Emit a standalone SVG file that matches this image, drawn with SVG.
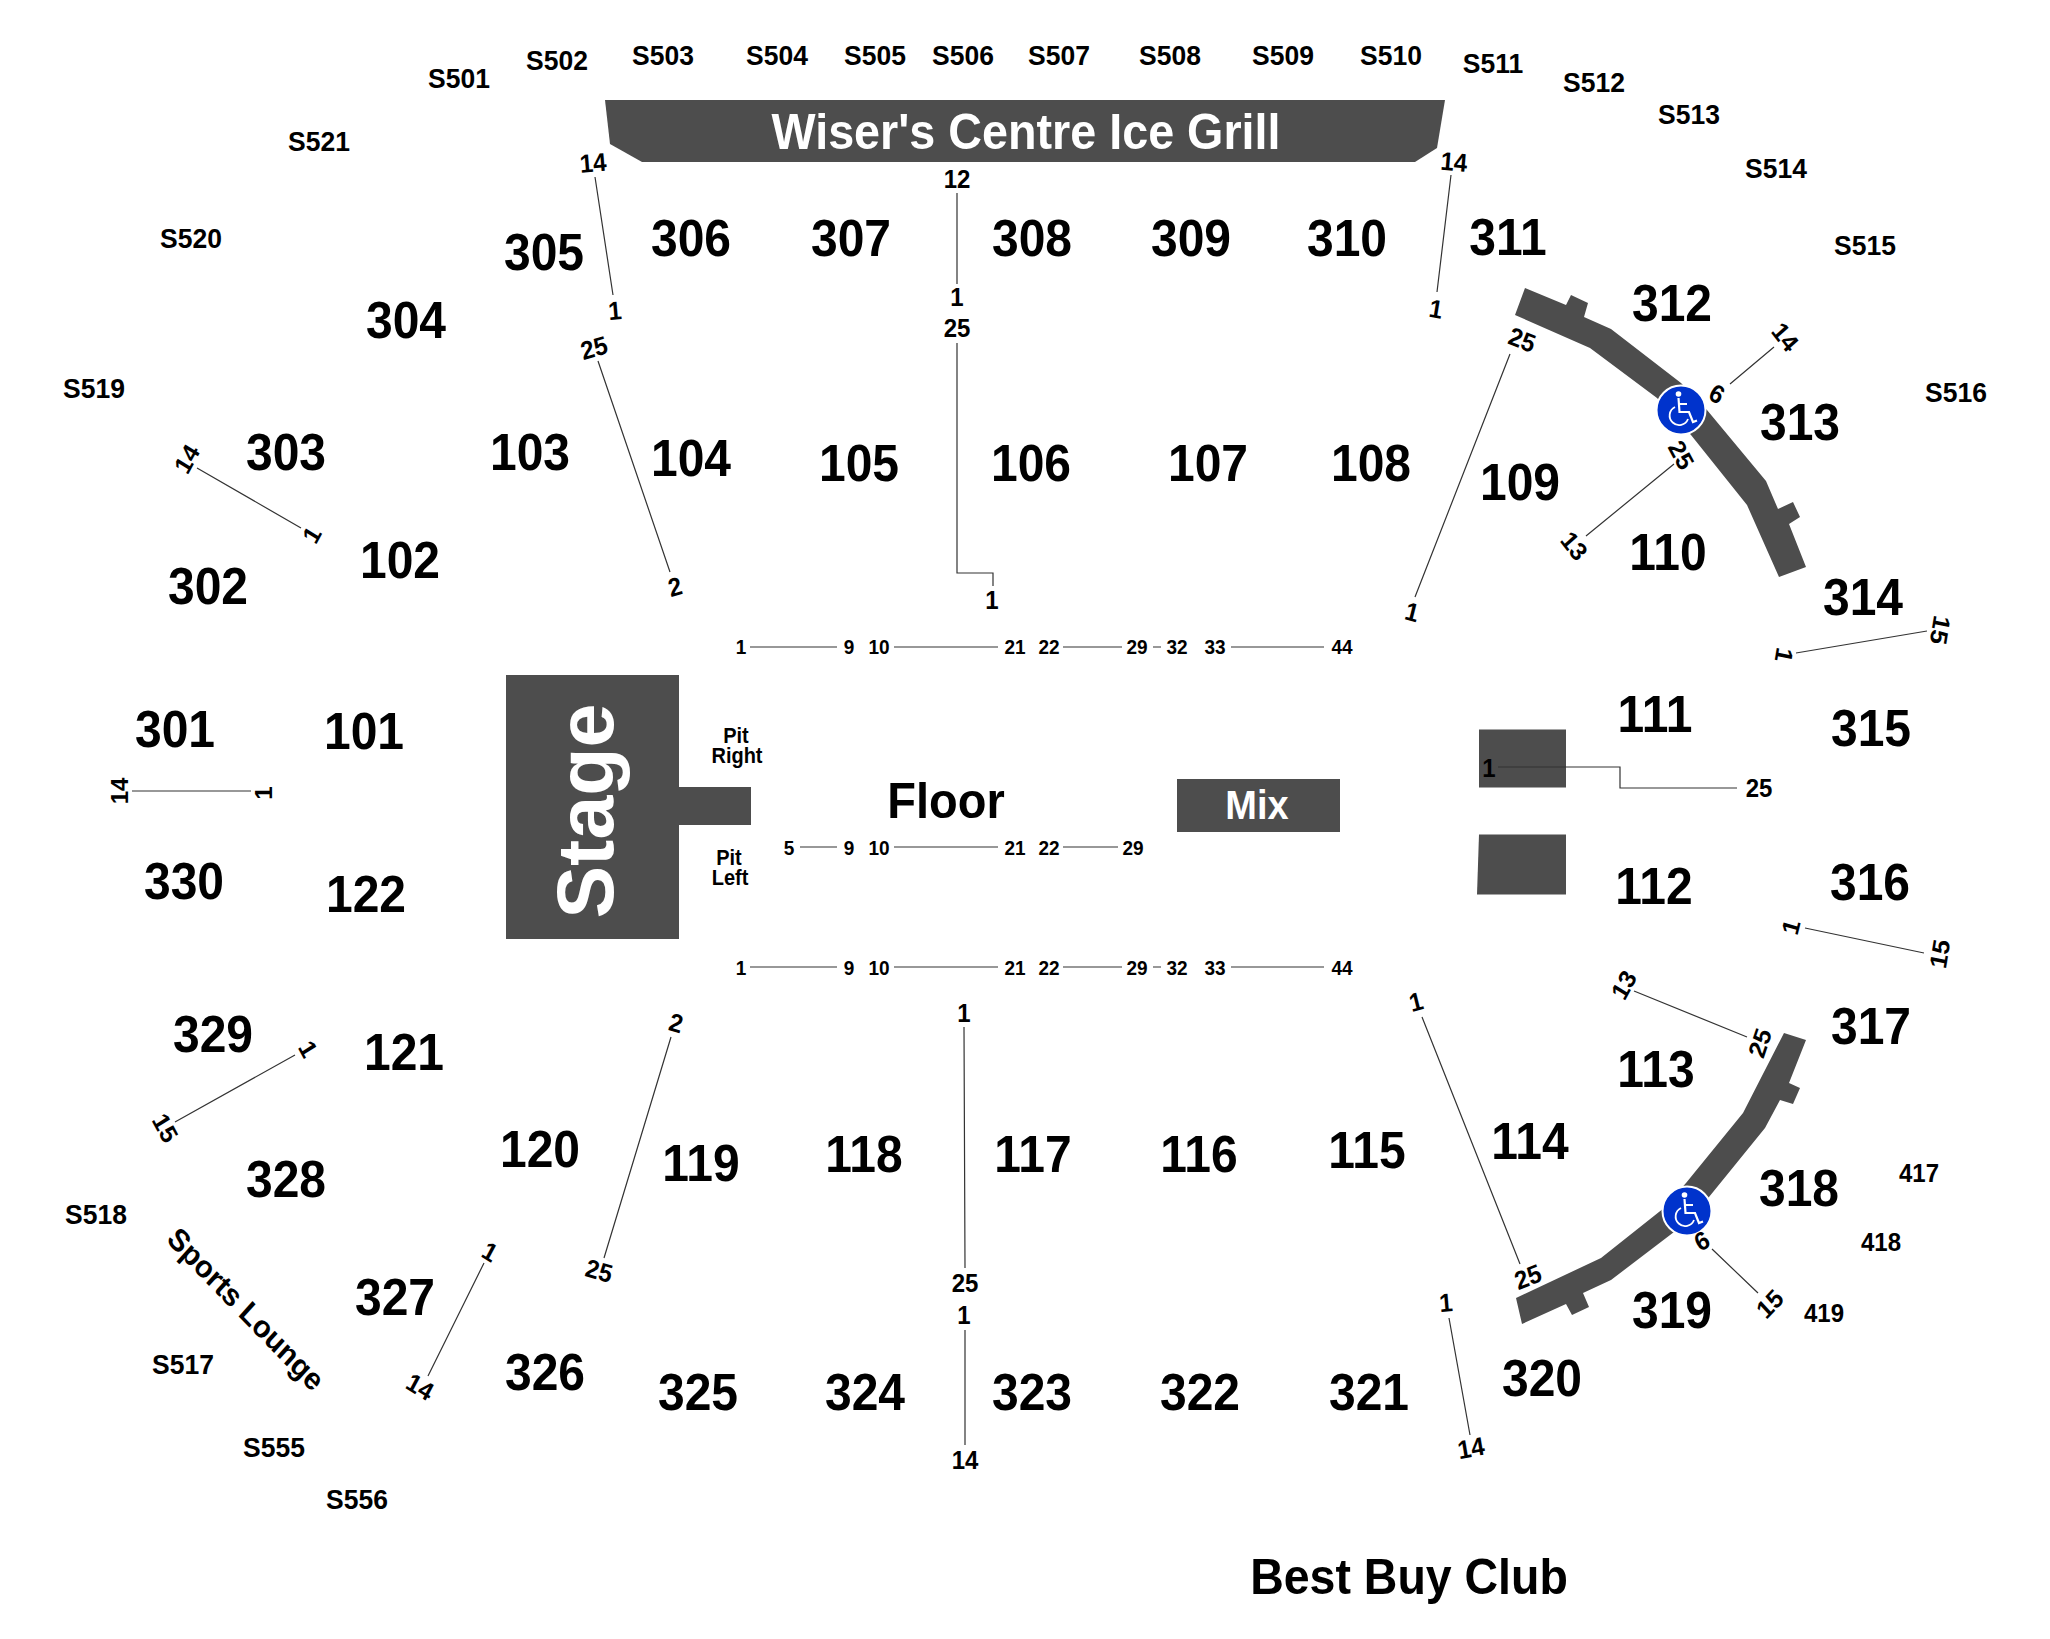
<svg xmlns="http://www.w3.org/2000/svg" width="2050" height="1639" viewBox="0 0 2050 1639">
<style>
text{font-family:"Liberation Sans",Arial,sans-serif;font-weight:700;text-anchor:middle;dominant-baseline:central;fill:#000}
text:not([transform]){transform-box:fill-box;transform-origin:center;transform:scaleY(1.07)}
.b{font-size:48px}
.s{font-size:26.5px}
.n{font-size:24px}
.r{font-size:19px}
.p{font-size:20px}
.w{fill:#fff}
.g{fill:#4d4d4d}
.l{fill:none;stroke:#333;stroke-width:1.2}
</style>
<defs>
<g id="wc">
<circle r="24.5" fill="#0033cc" stroke="#fff" stroke-width="2"/>
<circle cx="-2.5" cy="-16" r="2.8" fill="#fff"/>
<path d="M-2.5-12 L-1.5 2 H8 L12 12 L16 10.5 M-2-6 H6" fill="none" stroke="#fff" stroke-width="2.2"/>
<path d="M-6-3 A9.5 9.5 0 1 0 7 9" fill="none" stroke="#fff" stroke-width="1.8"/>
</g>
</defs>
<g id="stage"><path class="g" d="M506 675H679V787H751V825H679V939H506Z"/><text class="w" x="585" y="811" font-size="79" transform="rotate(-90 585 811)">Stage</text></g>
<g id="mix"><rect class="g" x="1177" y="779" width="163" height="53"/><text class="w" x="1257" y="805" font-size="38">Mix</text></g>
<g id="grill"><path class="g" d="M605 100H1445L1437 148L1415 162H642L610 144Z"/><text class="w" x="1026" y="131" font-size="46.7">Wiser's Centre Ice Grill</text></g>
<g id="block-111"><rect class="g" x="1479" y="729.500" width="87" height="58"/></g>
<g id="block-112"><path class="g" d="M1479 834.500H1566V894.500H1477Z"/></g>
<g id="band-top"><path class="g" d="M1525 288L1566 305L1571 295L1588 303L1584 317L1611 329L1681 383L1707 410L1766 481L1778 509L1793 502L1800 517L1789 524L1806 567L1779 577L1747 505L1691 435L1657 398L1590 348L1515 315Z"/><use href="#wc" x="1681" y="410"/></g>
<g id="band-bottom"><path class="g" d="M1784 1033L1806 1040L1789 1083L1800 1088L1793 1104L1780 1100L1765 1128L1709 1197L1674 1232L1611 1280L1583 1293L1589 1307L1572 1315L1566 1304L1522 1324L1516 1298L1601 1258L1664 1208L1686 1183L1743 1113Z"/><use href="#wc" x="1687" y="1211"/></g>
<g id="connectors">
<path class="l" d="M595 177L613 295M957 193V284M957 343V573H993V586M1451 175L1437 292M598 361L670 572M1510 354L1415 597M197 468L301 528M132 791H251M295 1055L175 1122M484 1263L428 1376M671 1037L604 1258M964 1027L965 1268M965 1330V1445M1422 1017L1520 1264M1449 1318L1470 1435M1634 991L1747 1037M1712 1249L1758 1293M1774 347L1730 384M1674 464L1586 536M1796 653L1927 631M1805 928L1924 953M1498 767H1620V788H1737"/>
<path class="l" d="M750 647H837M894 647H998M1063 647H1122M1153 647H1161M1231 647H1324M800 847H837M894 847H998M1063 847H1118M750 967H837M894 967H998M1063 967H1122M1153 967H1161M1231 967H1324"/>
</g>
<g id="section-100">
<text class="b" x="364" y="731">101</text><text class="b" x="400" y="560">102</text><text class="b" x="530" y="452">103</text><text class="b" x="691" y="458">104</text><text class="b" x="859" y="463">105</text><text class="b" x="1031" y="463">106</text><text class="b" x="1208" y="463">107</text><text class="b" x="1371" y="463">108</text><text class="b" x="1520" y="482">109</text><text class="b" x="1668" y="552">110</text><text class="b" x="1655" y="714">111</text><text class="b" x="1654" y="886">112</text><text class="b" x="1656" y="1069">113</text><text class="b" x="1530" y="1141">114</text><text class="b" x="1367" y="1150">115</text><text class="b" x="1199" y="1154">116</text><text class="b" x="1033" y="1154">117</text><text class="b" x="864" y="1154">118</text><text class="b" x="701" y="1163">119</text><text class="b" x="540" y="1149">120</text><text class="b" x="404" y="1052">121</text><text class="b" x="366" y="894">122</text>
</g>
<g id="section-300">
<text class="b" x="175" y="729">301</text><text class="b" x="208" y="586">302</text><text class="b" x="286" y="452">303</text><text class="b" x="406" y="320">304</text><text class="b" x="544" y="252">305</text><text class="b" x="691" y="238">306</text><text class="b" x="851" y="238">307</text><text class="b" x="1032" y="238">308</text><text class="b" x="1191" y="238">309</text><text class="b" x="1347" y="238">310</text><text class="b" x="1508" y="237">311</text><text class="b" x="1672" y="303">312</text><text class="b" x="1800" y="422">313</text><text class="b" x="1863" y="597">314</text><text class="b" x="1871" y="728">315</text><text class="b" x="1870" y="882">316</text><text class="b" x="1871" y="1026">317</text><text class="b" x="1799" y="1188">318</text><text class="b" x="1672" y="1310">319</text><text class="b" x="1542" y="1378">320</text><text class="b" x="1369" y="1392">321</text><text class="b" x="1200" y="1392">322</text><text class="b" x="1032" y="1392">323</text><text class="b" x="865" y="1392">324</text><text class="b" x="698" y="1392">325</text><text class="b" x="545" y="1372">326</text><text class="b" x="395" y="1297">327</text><text class="b" x="286" y="1179">328</text><text class="b" x="213" y="1034">329</text><text class="b" x="184" y="881">330</text>
</g>
<g id="section-400">
<text class="n" x="1919" y="1173">417</text><text class="n" x="1881" y="1242">418</text><text class="n" x="1824" y="1313">419</text>
</g>
<g id="suites">
<text class="s" x="459" y="78">S501</text><text class="s" x="557" y="60">S502</text><text class="s" x="663" y="55">S503</text><text class="s" x="777" y="55">S504</text><text class="s" x="875" y="55">S505</text><text class="s" x="963" y="55">S506</text><text class="s" x="1059" y="55">S507</text><text class="s" x="1170" y="55">S508</text><text class="s" x="1283" y="55">S509</text><text class="s" x="1391" y="55">S510</text><text class="s" x="1493" y="63">S511</text><text class="s" x="1594" y="82">S512</text><text class="s" x="1689" y="114">S513</text><text class="s" x="1776" y="168">S514</text><text class="s" x="1865" y="245">S515</text><text class="s" x="1956" y="392">S516</text><text class="s" x="183" y="1364">S517</text><text class="s" x="96" y="1214">S518</text><text class="s" x="94" y="388">S519</text><text class="s" x="191" y="238">S520</text><text class="s" x="319" y="141">S521</text><text class="s" x="274" y="1447">S555</text><text class="s" x="357" y="1499">S556</text>
</g>
<g id="areas">
<text x="946" y="800" font-size="47">Floor</text>
<text x="1409" y="1576" font-size="46.5">Best Buy Club</text>
<text font-size="29" transform="translate(246 1309) scale(1 1.07) rotate(44)">Sports Lounge</text>
<text class="p" x="736" y="735">Pit</text><text class="p" x="737" y="755">Right</text><text class="p" x="729" y="857">Pit</text><text class="p" x="730" y="877">Left</text>
</g>
<g id="row-numbers">
<text class="n" transform="translate(593 163) scale(1 1.07) rotate(-5)">14</text><text class="n" transform="translate(615 311) scale(1 1.07) rotate(-5)">1</text>
<text class="n" x="957" y="179">12</text><text class="n" x="957" y="297">1</text><text class="n" x="957" y="328">25</text><text class="n" x="992" y="600">1</text>
<text class="n" transform="translate(1454 162) scale(1 1.07) rotate(5)">14</text><text class="n" transform="translate(1436 309) scale(1 1.07) rotate(10)">1</text>
<text class="n" transform="translate(594 348) scale(1 1.07) rotate(-15)">25</text><text class="n" transform="translate(675 587) scale(1 1.07) rotate(-15)">2</text>
<text class="n" transform="translate(1522 340) scale(1 1.07) rotate(20)">25</text><text class="n" transform="translate(1412 612) scale(1 1.07) rotate(15)">1</text>
<text class="n" transform="translate(1785 337) scale(1 1.07) rotate(50)">14</text><text class="n" transform="translate(1717 394) scale(1 1.07) rotate(30)">6</text>
<text class="n" transform="translate(1681 455) scale(1 1.07) rotate(60)">25</text><text class="n" transform="translate(1574 546) scale(1 1.07) rotate(50)">13</text>
<text class="n" transform="translate(1784 655) scale(1 1.07) rotate(100)">1</text><text class="n" transform="translate(1940 630) scale(1 1.07) rotate(100)">15</text>
<text class="n" transform="translate(187 459) scale(1 1.07) rotate(-60)">14</text><text class="n" transform="translate(312 535) scale(1 1.07) rotate(-60)">1</text>
<text class="n" transform="translate(119 791) rotate(-90)">14</text><text class="n" transform="translate(263 793) rotate(-90)">1</text>
<text class="n" x="1489" y="768">1</text><text class="n" x="1759" y="788">25</text>
<text class="n" transform="translate(1791 927) scale(1 1.07) rotate(-75)">1</text><text class="n" transform="translate(1940 954) scale(1 1.07) rotate(-80)">15</text>
<text class="n" transform="translate(308 1049) scale(1 1.07) rotate(60)">1</text><text class="n" transform="translate(165 1128) scale(1 1.07) rotate(60)">15</text>
<text class="n" transform="translate(490 1252) scale(1 1.07) rotate(30)">1</text><text class="n" transform="translate(420 1387) scale(1 1.07) rotate(30)">14</text>
<text class="n" transform="translate(676 1023) scale(1 1.07) rotate(15)">2</text><text class="n" transform="translate(599 1271) scale(1 1.07) rotate(15)">25</text>
<text class="n" x="964" y="1013">1</text><text class="n" x="965" y="1283">25</text><text class="n" x="964" y="1315">1</text><text class="n" x="965" y="1460">14</text>
<text class="n" transform="translate(1416 1002) scale(1 1.07) rotate(-15)">1</text><text class="n" transform="translate(1528 1277) scale(1 1.07) rotate(-20)">25</text>
<text class="n" transform="translate(1446 1303) scale(1 1.07) rotate(-5)">1</text><text class="n" transform="translate(1471 1448) scale(1 1.07) rotate(-10)">14</text>
<text class="n" transform="translate(1624 985) scale(1 1.07) rotate(-60)">13</text><text class="n" transform="translate(1760 1043) scale(1 1.07) rotate(-70)">25</text>
<text class="n" transform="translate(1702 1241) scale(1 1.07) rotate(-30)">6</text><text class="n" transform="translate(1770 1304) scale(1 1.07) rotate(-45)">15</text>
</g>
<g id="floor-rows">
<text class="r" x="741" y="647">1</text><text class="r" x="849" y="647">9</text><text class="r" x="879" y="647">10</text><text class="r" x="1015" y="647">21</text><text class="r" x="1049" y="647">22</text><text class="r" x="1137" y="647">29</text><text class="r" x="1177" y="647">32</text><text class="r" x="1215" y="647">33</text><text class="r" x="1342" y="647">44</text>
<text class="r" x="789" y="848">5</text><text class="r" x="849" y="848">9</text><text class="r" x="879" y="848">10</text><text class="r" x="1015" y="848">21</text><text class="r" x="1049" y="848">22</text><text class="r" x="1133" y="848">29</text>
<text class="r" x="741" y="968">1</text><text class="r" x="849" y="968">9</text><text class="r" x="879" y="968">10</text><text class="r" x="1015" y="968">21</text><text class="r" x="1049" y="968">22</text><text class="r" x="1137" y="968">29</text><text class="r" x="1177" y="968">32</text><text class="r" x="1215" y="968">33</text><text class="r" x="1342" y="968">44</text>
</g>
</svg>
